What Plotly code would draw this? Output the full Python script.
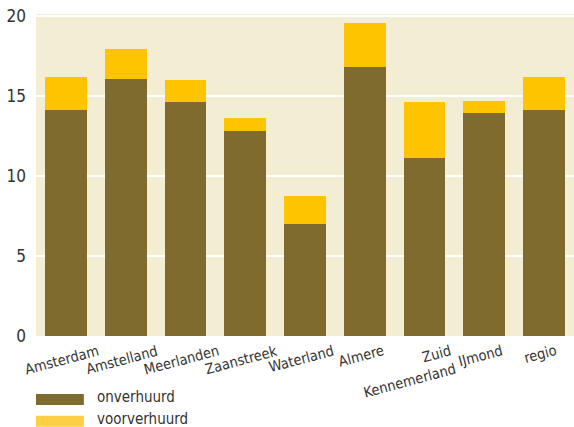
import plotly.graph_objects as go

# Regions and stacked values
regions = ["Amsterdam", "Amstelland", "Meerlanden", "Zaanstreek", "Waterland",
           "Almere", "Zuid<br>Kennemerland", "IJmond", "regio"]
onverhuurd = [14.12, 16.06, 14.62, 12.81, 7.0, 16.81, 11.12, 13.94, 14.12]
voorverhuurd = [2.06, 1.88, 1.38, 0.81, 1.75, 2.75, 3.5, 0.75, 2.06]
y_ticks = [0, 5, 10, 15, 20]

series_names = ["onverhuurd", "voorverhuurd"]
bar_colors = ["#7F6B2E", "#FFC400"]
swatch_colors = ["#7F6B2E", "#FDCF45"]

FONT = "DejaVu Sans Condensed, sans-serif"
TEXT = "#333333"

x_idx = list(range(len(regions)))

fig = go.Figure()
for name, vals, col in zip(series_names, [onverhuurd, voorverhuurd], bar_colors):
    fig.add_trace(go.Bar(x=x_idx, y=vals, name=name, marker=dict(color=col, line=dict(width=0)),
                         width=0.7, showlegend=False))

# Slanted category labels under each bar
for i, lab in enumerate(regions):
    multi = "<br>" in lab
    fig.add_annotation(x=i, y=0, xref="x", yref="paper", text=lab, showarrow=False,
                       textangle=-15, xanchor="center", yanchor="top",
                       yshift=-4, xshift=-17 if multi else -4,
                       font=dict(family=FONT, size=14.5, color=TEXT), align="right")

# Legend: wide swatches with labels beneath the chart
for k, (name, col) in enumerate(zip(series_names, swatch_colors)):
    y0 = -0.180 - k * 0.068
    fig.add_shape(type="rect", xref="paper", yref="paper", x0=0.0, x1=0.089,
                  y0=y0 - 0.034, y1=y0, fillcolor=col, line=dict(width=0))
    fig.add_annotation(xref="paper", yref="paper", x=0.112, y=y0 - 0.017, text=name,
                       showarrow=False, xanchor="left", yanchor="middle", yshift=2,
                       borderpad=0, font=dict(family=FONT, size=15, color=TEXT))

fig.update_layout(
    barmode="stack",
    width=574, height=427,
    margin=dict(l=36, r=0, t=14, b=91),
    paper_bgcolor="white",
    plot_bgcolor="#F2EDD3",
    font=dict(family=FONT, size=15, color=TEXT),
    xaxis=dict(range=[-0.5, len(regions) - 0.5], showticklabels=False, showgrid=False,
               zeroline=False, ticks=""),
    yaxis=dict(range=[0, 20.12], tickvals=y_ticks, showgrid=True, gridcolor="white",
               gridwidth=2, zeroline=False, ticks="", ticklabelstandoff=9,
               tickfont=dict(family=FONT, size=17, color=TEXT)),
    bargap=0.3,
)

fig.write_html("out.html")
